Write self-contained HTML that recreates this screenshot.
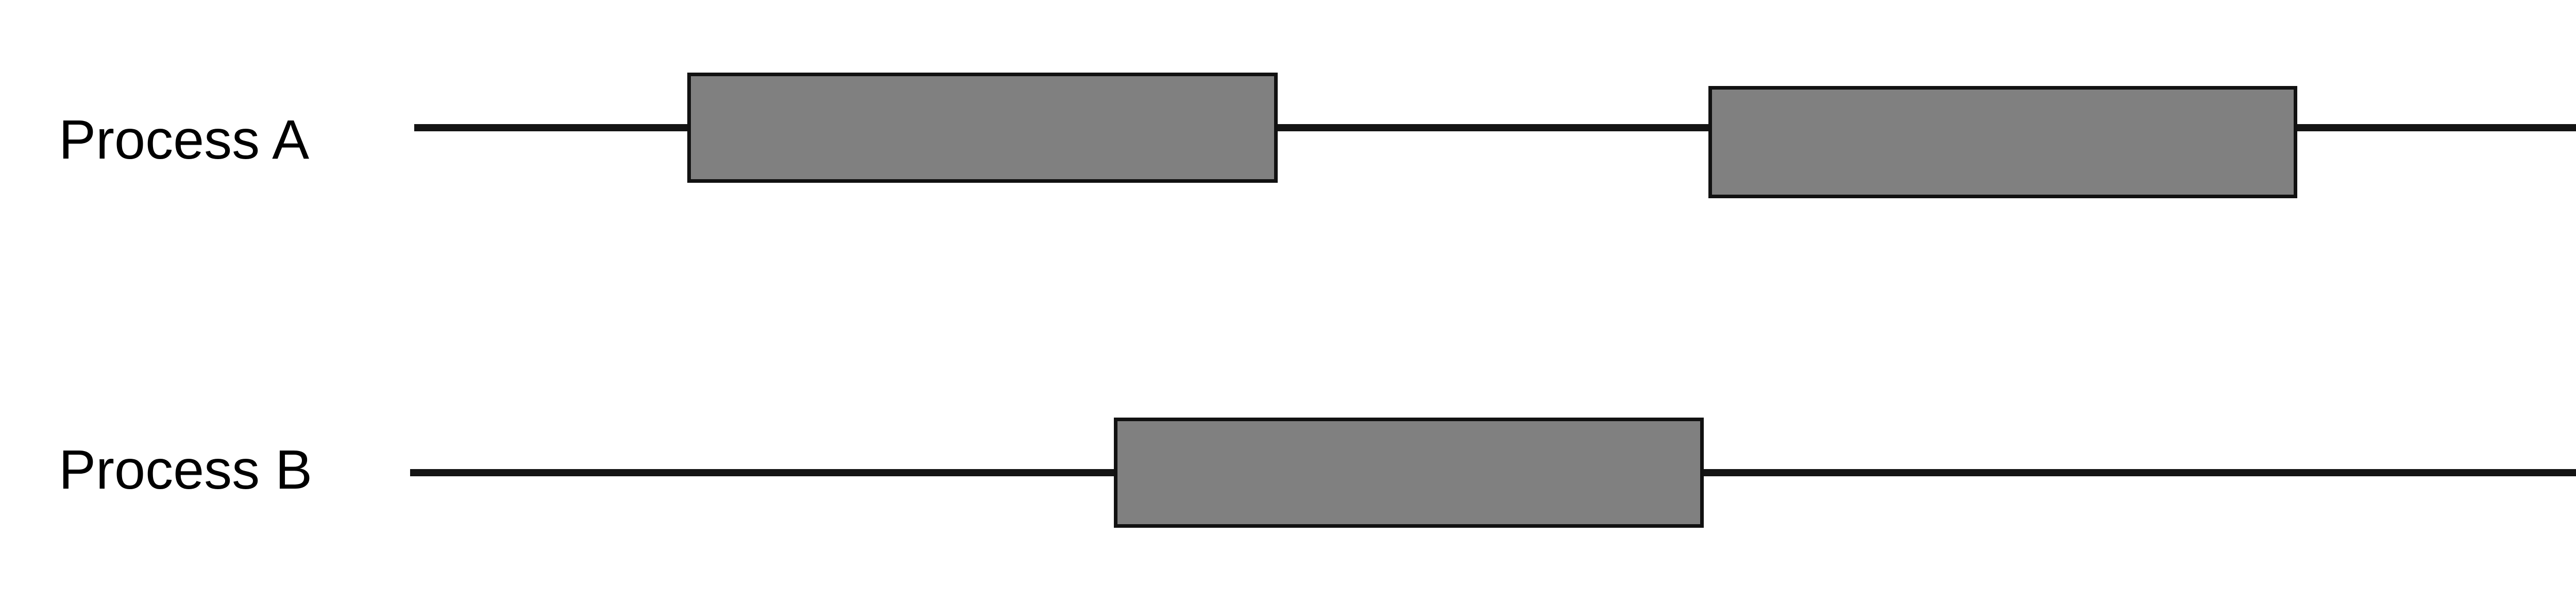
<!DOCTYPE html>
<html><head><meta charset="utf-8"><style>
html,body{margin:0;padding:0;background:#fff;}
body{width:5329px;height:1175px;position:relative;overflow:hidden;font-family:"Liberation Sans",sans-serif;}
.t{position:absolute;left:114px;font-size:108px;line-height:1;color:#000;letter-spacing:0px;}
.l{position:absolute;height:14px;background:#141414;}
.b{position:absolute;background:#808080;border:7px solid #111;box-sizing:border-box;}
</style></head><body>
<div class="t" style="top:217px;">Process A</div>
<div class="t" style="top:858px;">Process B</div>
<div class="l" style="left:804px;width:4288px;top:241px;"></div>
<div class="b" style="left:1334px;top:141px;width:1146px;height:214px;"></div>
<div class="b" style="left:3316px;top:167px;width:1143px;height:218px;"></div>
<div class="l" style="left:796px;width:4296px;top:911px;"></div>
<div class="b" style="left:2162px;top:811px;width:1145px;height:214px;"></div>
</body></html>
